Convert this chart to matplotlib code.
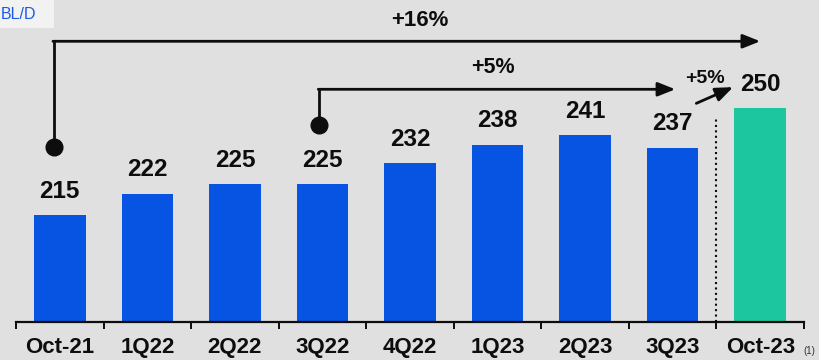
import matplotlib as mpl
import matplotlib.pyplot as plt
from matplotlib.patches import Rectangle

mpl.rcParams.update({
    'font.family': ['Liberation Sans', 'DejaVu Sans'],
    'font.weight': 'bold',
})

periods = ['Oct-21', '1Q22', '2Q22', '3Q22', '4Q22', '1Q23', '2Q23', '3Q23', 'Oct-23']
volumes = [215, 222, 225, 225, 232, 238, 241, 237, 250]
growth_labels = ['+16%', '+5%', '+5%']

BG = '#e0e0e0'
BLUE = '#0753e2'
TEAL = '#1cc7a0'
INK = '#0d0d0d'

W, H = 819, 360
fig = plt.figure(figsize=(W / 100, H / 100), dpi=100, facecolor=BG)
ax = fig.add_axes([16 / W, 38 / H, 788 / W, 322 / H])
ax.set_facecolor(BG)

n = len(periods)
xs = list(range(n))
colors = [BLUE] * (n - 1) + [TEAL]
ax.bar(xs, volumes, width=0.59, color=colors, zorder=2)

ax.set_xlim(-0.5, n - 0.5)
ax.set_ylim(180, 285.3)

for x, v in zip(xs, volumes):
    ax.annotate(f'{v}', (x, v), xytext=(0, 12.5), textcoords='offset points',
                ha='center', va='baseline', fontsize=17.5, color=INK)

# axis: only the bottom spine, ticks at category boundaries
for s in ['left', 'right', 'top']:
    ax.spines[s].set_visible(False)
ax.spines['bottom'].set_linewidth(1.6)
ax.spines['bottom'].set_color(INK)
ax.set_yticks([])
ax.set_xticks([i - 0.5 for i in range(n + 1)])
ax.set_xticklabels([])
ax.tick_params(axis='x', which='major', length=5, width=1.4, color=INK, direction='out')
ax.set_xticks(xs, minor=True)
ax.set_xticklabels(periods, minor=True, fontsize=16, fontweight='bold', color=INK)
ax.tick_params(axis='x', which='minor', length=0, pad=10.5)

# dotted divider before the latest month
ax.plot([n - 1.5, n - 1.5], [180, 246.7], color=INK, lw=1.5, ls=(0, (1, 1.6)),
        zorder=3, clip_on=False)

arrow_kw = dict(arrowstyle='-|>,head_length=1.05,head_width=0.42', color=INK,
                lw=2.0, shrinkA=0, shrinkB=0)


def bracket(x0, y0, y_top, x_end, label, label_xy, fs):
    ax.plot([x0], [y0], 'o', ms=12, color=INK, zorder=5, clip_on=False)
    ax.plot([x0, x0], [y0, y_top], color=INK, lw=2.0, zorder=4,
            solid_capstyle='butt', clip_on=False)
    ax.annotate('', xy=(x_end, y_top), xytext=(x0 - 0.012, y_top),
                arrowprops=arrow_kw, annotation_clip=False)
    ax.text(*label_xy, label, ha='center', va='center', fontsize=fs, color=INK)


bracket(-0.066, 237.3, 271.8, 8.0, growth_labels[0], (4.11, 278.6), 16)
bracket(2.964, 244.3, 256.1, 7.03, growth_labels[1], (4.95, 263.2), 15.5)

ax.annotate('', xy=(7.69, 256.8), xytext=(7.27, 251.5), arrowprops=arrow_kw,
            annotation_clip=False)
ax.text(7.37, 259.6, growth_labels[2], ha='center', va='center', fontsize=14,
        color=INK)

fig.text(809 / W, 1 - 351 / H, '(1)', ha='center', va='center', fontsize=7,
         fontweight='normal', color='#333333')

# unit tag in the top-left corner
fig.patches.append(Rectangle((0, 1 - 28 / H), 54 / W, 28 / H, transform=fig.transFigure,
                             facecolor='#f2f2f2', edgecolor='none', zorder=0))
fig.text(0.5 / W, 1 - 14.5 / H, 'BL/D', ha='left', va='center', fontsize=11.5,
         fontweight='normal', color='#1a5ae6')

fig.savefig('out.png', dpi=100, facecolor=BG)
